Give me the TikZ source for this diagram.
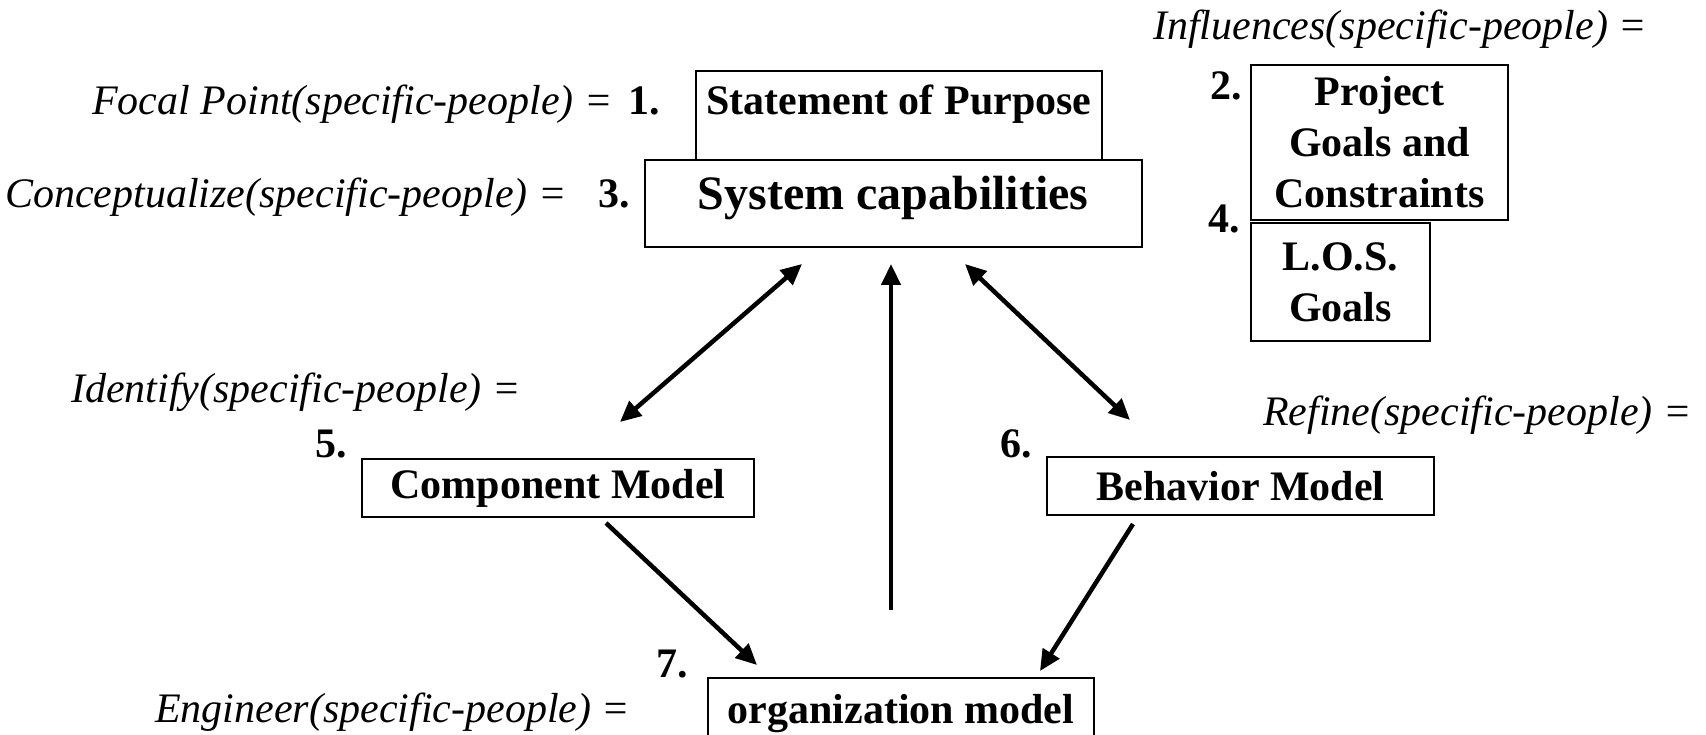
\documentclass[tikz,border=0pt]{standalone}
\usepackage{fontspec}
\setmainfont{Liberation Serif}
\usetikzlibrary{arrows.meta}
\tikzset{
  lbl/.style={font=\itshape\fontsize{42}{50}\selectfont, anchor=base west, inner sep=0pt},
  num/.style={font=\bfseries\fontsize{42}{50}\selectfont, anchor=base west, inner sep=0pt},
  boxnode/.style={draw, line width=2pt, inner sep=0pt, align=center, font=\bfseries\fontsize{42}{51}\selectfont},
  btext/.style={inner sep=0pt, align=center, anchor=base, font=\bfseries\fontsize{42}{51}\selectfont},
  conn/.style={line width=4.5pt, -{Triangle[length=21pt,width=19pt]}},
  dconn/.style={line width=4.5pt, {Triangle[length=21pt,width=19pt]}-{Triangle[length=21pt,width=19pt]}}
}
\begin{document}
\begin{tikzpicture}[x=1pt,y=-1pt]
\clip (0,0) rectangle (1706,735);
\fill[white] (0,0) rectangle (1706,735);
% labels
\node[lbl] (linf) at (1153,40) {Influences(specific-people) =};
\node[lbl] (lfoc) at (92,115) {Focal Point(specific-people) =};
\node[lbl] (lcon) at (5,208) {Conceptualize(specific-people) =};
\node[lbl] (lide) at (71,402) {Identify(specific-people) =};
\node[lbl] (lref) at (1263,425) {Refine(specific-people) =};
\node[lbl] (leng) at (155,722) {Engineer(specific-people) =};
% numbers
\node[num] (n1) at (628,115) {1.};
\node[num] (n2) at (1210,100) {2.};
\node[num] (n3) at (598,208) {3.};
\node[num] (n4) at (1208,233) {4.};
\node[num] (n5) at (315,457) {5.};
\node[num] (n6) at (1000,457) {6.};
\node[num] (n7) at (656,677) {7.};
% boxes
\node[boxnode, minimum width=406pt, minimum height=89pt] (sop) at (899,115.5) {};
\node[btext] (sopt) at (899,115) {Statement of Purpose};
\node[boxnode, minimum width=497pt, minimum height=87pt] (sc) at (893.5,203.5) {};
\node[btext, font=\bfseries\fontsize{48}{56}\selectfont] (sct) at (893,210) {System capabilities};
\node[boxnode, minimum width=257pt, minimum height=155pt] (pg) at (1379.5,142.5) {Project\\Goals and\\Constraints};
\node[boxnode, minimum width=179pt, minimum height=118pt] (los) at (1340.5,282) {L.O.S.\\Goals};
\node[boxnode, minimum width=392pt, minimum height=58pt] (cm) at (558,488) {Component Model};
\node[boxnode, minimum width=387pt, minimum height=58pt] (bm) at (1240.5,486) {Behavior Model};
\node[boxnode, minimum width=386pt, minimum height=80pt] (om) at (901,718) {};
\node[btext] (omt) at (901,723) {organization model};
% connector endpoints
\coordinate (a1s) at (802,264);
\coordinate (a1e) at (620,422);
\coordinate (a2s) at (965,264);
\coordinate (a2e) at (1130,420);
\coordinate (ups) at (891,610);
\coordinate (upe) at (891,264);
\coordinate (c1s) at (606,523);
\coordinate (c1e) at (757,665);
\coordinate (b1s) at (1133,524);
\coordinate (b1e) at (1040,671);
\draw[dconn] (a1s) -- (a1e);
\draw[dconn] (a2s) -- (a2e);
\draw[conn] (ups) -- (upe);
\draw[conn] (c1s) -- (c1e);
\draw[conn] (b1s) -- (b1e);
\end{tikzpicture}
\end{document}
